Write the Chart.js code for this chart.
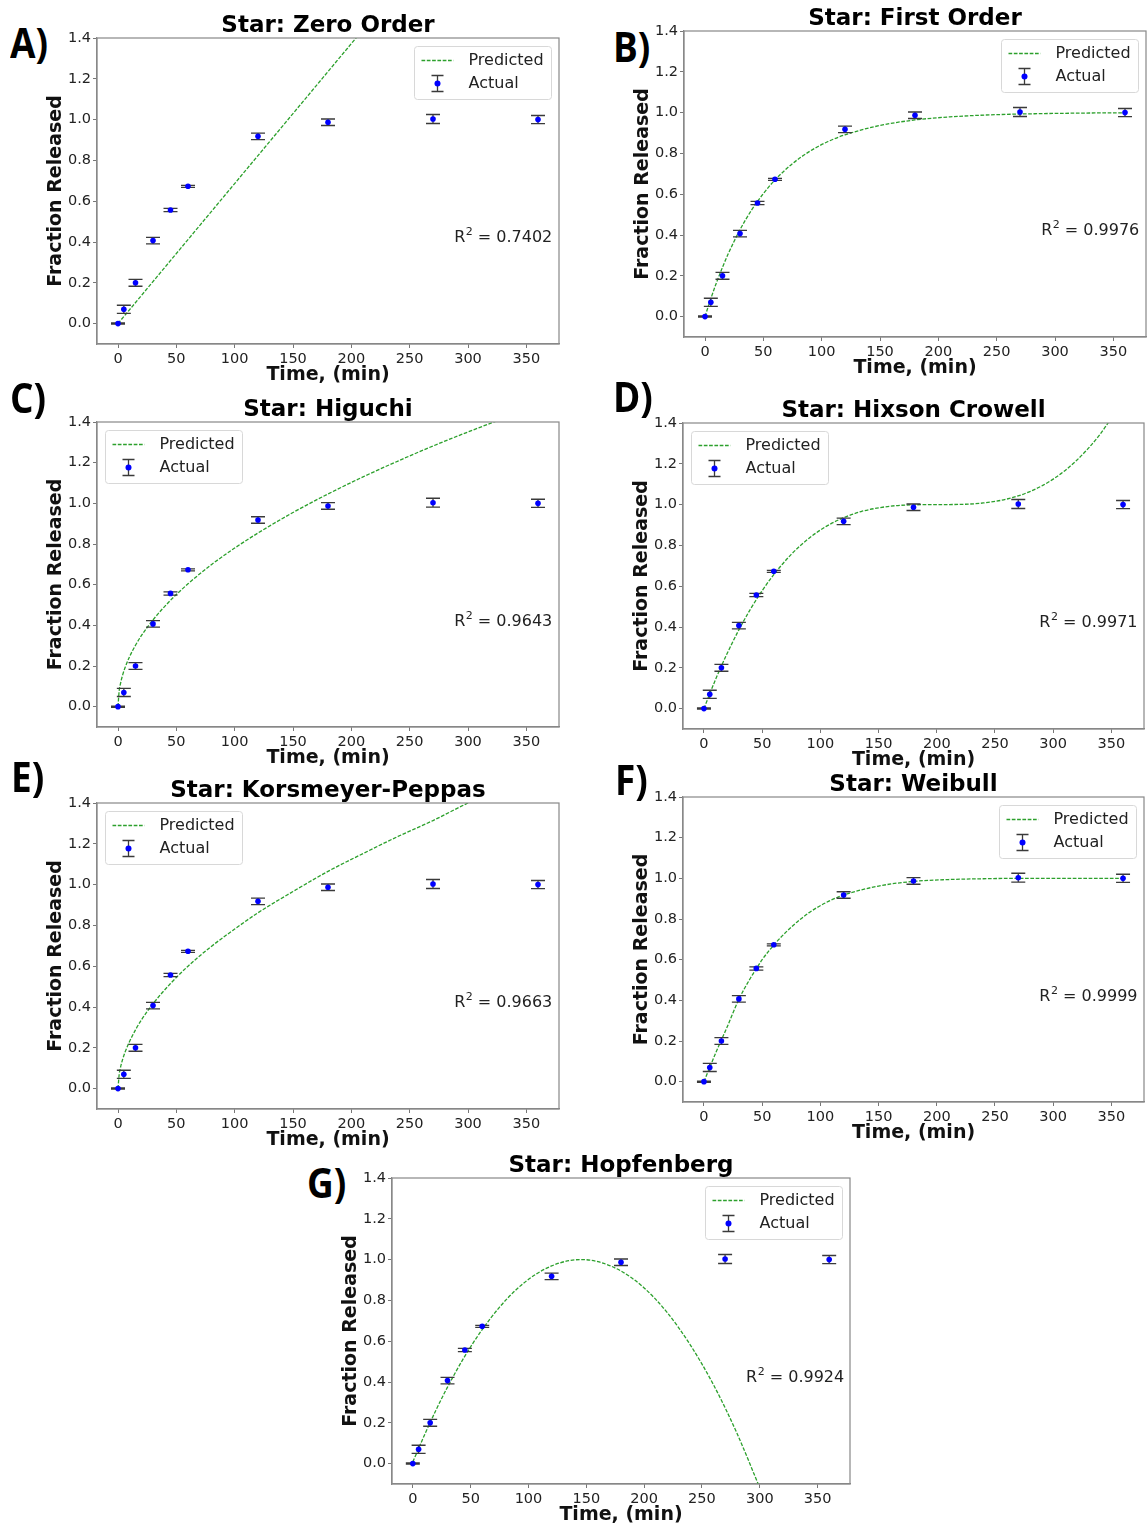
<!DOCTYPE html>
<html lang="en">
<head>
<meta charset="UTF-8">
<title>Star release kinetics - model fits</title>
<script src="https://cdn.jsdelivr.net/npm/chart.js@4.4.1/dist/chart.umd.min.js"></script>
<style>
  body { margin: 0; background: #fff; }
  #page { position: relative; width: 1147px; height: 1526px; overflow: hidden; }
  #page canvas { position: absolute; }
  .tag { position: absolute; font-family: "Open Sans", sans-serif; font-weight: 700; font-size: 42px; line-height: 1; color: #000;
         transform: scaleX(0.88); transform-origin: left top; }
</style>
</head>
<body>
<div id="page"></div>
<script>
// measured release (mean +- error)
const timeMin = [0, 5, 15, 30, 45, 60, 120, 180, 270, 360];
const fractionMean = [0, 0.07, 0.2, 0.407, 0.557, 0.673, 0.918, 0.987, 1.003, 1.0];
const fractionErr = [0.003, 0.02, 0.017, 0.016, 0.008, 0.005, 0.016, 0.016, 0.022, 0.02];

const xTicks = [0, 50, 100, 150, 200, 250, 300, 350];
const yTicks = [0, 0.2, 0.4, 0.6, 0.8, 1.0, 1.2, 1.4];

// predicted curves
const zeroOrderT = [0, 60, 204, 360];
const zeroOrderY = [0, 0.412, 1.40, 2.47];

const firstOrderT = [0, 5, 10, 15, 20, 30, 40, 50, 60, 75, 90, 105, 120, 150, 180, 210, 240, 270, 300, 330, 360];
const firstOrderY = [0, 0.088, 0.169, 0.242, 0.309, 0.426, 0.523, 0.603, 0.67, 0.75, 0.811, 0.857, 0.891, 0.937, 0.964, 0.979, 0.988, 0.993, 0.996, 0.998, 0.999];

const higuchiT = [0, 1, 2, 4, 6, 10, 15, 20, 30, 45, 60, 80, 100, 120, 150, 180, 210, 240, 270, 300, 330];
const higuchiY = [0, 0.078, 0.11, 0.156, 0.191, 0.247, 0.302, 0.349, 0.427, 0.523, 0.604, 0.698, 0.78, 0.854, 0.955, 1.046, 1.13, 1.208, 1.282, 1.351, 1.417];

const hixsonT = [0, 5, 10, 15, 20, 30, 40, 50, 60, 75, 90, 105, 120, 135, 150, 165, 180, 200, 220, 240, 260, 280, 300, 320, 340, 360];
const hixsonY = [0, 0.073, 0.143, 0.209, 0.271, 0.386, 0.488, 0.578, 0.657, 0.756, 0.834, 0.893, 0.936, 0.966, 0.984, 0.995, 0.999, 1.0, 1.001, 1.008, 1.027, 1.064, 1.125, 1.216, 1.343, 1.512];

const peppasT = [0, 1, 2, 4, 6, 10, 15, 20, 30, 45, 60, 80, 100, 120, 150, 180, 210, 240, 270, 300, 320];
const peppasY = [0, 0.069, 0.1, 0.144, 0.178, 0.232, 0.288, 0.336, 0.416, 0.515, 0.6, 0.697, 0.782, 0.862, 0.966, 1.065, 1.152, 1.236, 1.314, 1.4, 1.45];

const weibullT = [0, 5, 10, 15, 20, 30, 40, 45, 50, 60, 75, 90, 105, 120, 150, 180, 210, 240, 270, 300, 330, 360];
const weibullY = [0, 0.07, 0.14, 0.205, 0.27, 0.405, 0.51, 0.556, 0.6, 0.672, 0.76, 0.83, 0.881, 0.918, 0.962, 0.985, 0.994, 0.998, 1.0, 1.0, 1.0, 1.0];

const hopfenbergT = [0, 10, 20, 30, 45, 60, 75, 90, 105, 120, 135, 146, 160, 180, 200, 220, 240, 260, 280, 300];
const hopfenbergY = [0.008, 0.139, 0.262, 0.375, 0.527, 0.657, 0.767, 0.856, 0.923, 0.969, 0.995, 1.0, 0.99, 0.944, 0.861, 0.74, 0.581, 0.386, 0.152, -0.119];

const FONT = 'DejaVu Sans';
const GREEN = '#2ca02c';
Chart.defaults.font.family = FONT;

const panels = [
  { tag: 'A)', title: 'Star: Zero Order', t: zeroOrderT, y: zeroOrderY, r2: '0.7402', side: 'right',
    l: 97, top: 38, w: 462, h: 306, tagX: 10, tagY: 21 },
  { tag: 'B)', title: 'Star: First Order', t: firstOrderT, y: firstOrderY, r2: '0.9976', side: 'right',
    l: 684, top: 31, w: 462, h: 306, tagX: 613, tagY: 25 },
  { tag: 'C)', title: 'Star: Higuchi', t: higuchiT, y: higuchiY, r2: '0.9643', side: 'left',
    l: 97, top: 422, w: 462, h: 305, tagX: 10, tagY: 376 },
  { tag: 'D)', title: 'Star: Hixson Crowell', t: hixsonT, y: hixsonY, r2: '0.9971', side: 'left',
    l: 683, top: 423, w: 461, h: 306, tagX: 613, tagY: 375 },
  { tag: 'E)', title: 'Star: Korsmeyer-Peppas', t: peppasT, y: peppasY, r2: '0.9663', side: 'left',
    l: 97, top: 803, w: 462, h: 306, tagX: 11, tagY: 755 },
  { tag: 'F)', title: 'Star: Weibull', t: weibullT, y: weibullY, r2: '0.9999', side: 'right',
    l: 683, top: 797, w: 461, h: 305, tagX: 615, tagY: 758 },
  { tag: 'G)', title: 'Star: Hopfenberg', t: hopfenbergT, y: hopfenbergY, r2: '0.9924', side: 'right',
    l: 392, top: 1178, w: 458, h: 306, tagX: 307, tagY: 1161 }
];

// vertical error bars with caps, drawn just before the points
const errorBars = {
  id: 'errorBars',
  beforeDatasetDraw(chart, args) {
    const ds = chart.data.datasets[args.index];
    if (!ds.errors) return;
    const ctx = chart.ctx, ys = chart.scales.y;
    ctx.save();
    ctx.strokeStyle = '#3a3a3a';
    ctx.lineWidth = 1.3;
    args.meta.data.forEach((pt, i) => {
      const v = ds.data[i].y, e = ds.errors[i];
      const yt = ys.getPixelForValue(v + e), yb = ys.getPixelForValue(v - e);
      ctx.beginPath();
      ctx.moveTo(pt.x, yt); ctx.lineTo(pt.x, yb);
      ctx.moveTo(pt.x - 7, yt); ctx.lineTo(pt.x + 7, yt);
      ctx.moveTo(pt.x - 7, yb); ctx.lineTo(pt.x + 7, yb);
      ctx.stroke();
    });
    ctx.restore();
  }
};

// matplotlib-like legend box inside the axes
const legendBox = {
  id: 'legendBox',
  afterDraw(chart, args, opts) {
    const ctx = chart.ctx, a = chart.chartArea;
    const w = 137, h = 53, inset = 8;
    const x0 = Math.round(opts.side === 'left' ? a.left + inset : a.right - inset - w) + 0.5;
    const y0 = Math.round(a.top + inset) + 0.5;
    const pred = chart.data.datasets[1], act = chart.data.datasets[0];
    ctx.save();
    ctx.fillStyle = 'rgba(255,255,255,0.85)';
    ctx.strokeStyle = '#d8d8d8';
    ctx.lineWidth = 1;
    ctx.beginPath();
    ctx.roundRect(x0, y0, w, h, 3);
    ctx.fill();
    ctx.stroke();

    // Predicted
    ctx.strokeStyle = pred.borderColor;
    ctx.lineWidth = pred.borderWidth;
    ctx.setLineDash(pred.borderDash);
    ctx.beginPath();
    ctx.moveTo(x0 + 7, y0 + 14); ctx.lineTo(x0 + 39, y0 + 14);
    ctx.stroke();
    ctx.setLineDash([]);

    // Actual
    const cx = x0 + 23, cy = y0 + 37;
    ctx.strokeStyle = '#3a3a3a';
    ctx.lineWidth = 1.3;
    ctx.beginPath();
    ctx.moveTo(cx, cy - 8); ctx.lineTo(cx, cy + 8);
    ctx.moveTo(cx - 6, cy - 8); ctx.lineTo(cx + 6, cy - 8);
    ctx.moveTo(cx - 6, cy + 8); ctx.lineTo(cx + 6, cy + 8);
    ctx.stroke();
    ctx.fillStyle = act.backgroundColor;
    ctx.beginPath(); ctx.arc(cx, cy, 3, 0, Math.PI * 2); ctx.fill();

    ctx.fillStyle = '#222';
    ctx.font = '16px "' + FONT + '"';
    ctx.textBaseline = 'middle';
    ctx.fillText(pred.label, x0 + 54, y0 + 14);
    ctx.fillText(act.label, x0 + 54, y0 + 37);
    ctx.restore();
  }
};

// axes frame and the R^2 note
const frameNote = {
  id: 'frameNote',
  afterDraw(chart, args, opts) {
    const ctx = chart.ctx, a = chart.chartArea;
    ctx.save();
    ctx.strokeStyle = '#888';
    ctx.lineWidth = 1.2;
    ctx.strokeRect(a.left, a.top, a.right - a.left, a.bottom - a.top);

    let x = a.left + 0.773 * (a.right - a.left);
    const base = a.bottom - 0.332 * (a.bottom - a.top);
    ctx.fillStyle = '#222';
    ctx.textBaseline = 'alphabetic';
    ctx.font = '16px "' + FONT + '"';
    ctx.fillText('R', x, base);
    x += ctx.measureText('R').width;
    ctx.font = '11px "' + FONT + '"';
    ctx.fillText('2', x + 0.5, base - 7);
    x += ctx.measureText('2').width + 0.5;
    ctx.font = '16px "' + FONT + '"';
    ctx.fillText(' = ' + opts.r2, x, base);
    ctx.restore();
  }
};

const page = document.getElementById('page');

function makePanel(p) {
  const tag = document.createElement('div');
  tag.className = 'tag';
  tag.textContent = p.tag;
  tag.style.left = p.tagX + 'px';
  tag.style.top = p.tagY + 'px';
  page.appendChild(tag);

  const yAxisW = 60, titleH = 28, xAxisH = 41, padR = 3;
  const c = document.createElement('canvas');
  c.width = yAxisW + p.w + padR;
  c.height = titleH + p.h + xAxisH;
  c.style.left = (p.l - yAxisW) + 'px';
  c.style.top = (p.top - titleH) + 'px';
  page.appendChild(c);

  const tickFont = { family: FONT, size: 14.5 };
  const labelFont = { family: FONT, size: 19, weight: 'bold', lineHeight: 1 };

  return new Chart(c, {
    type: 'scatter',
    data: {
      datasets: [
        {
          label: 'Actual',
          data: timeMin.map((t, i) => ({ x: t, y: fractionMean[i] })),
          errors: fractionErr,
          backgroundColor: '#0000ff',
          borderColor: '#0000ff',
          borderWidth: 0,
          pointRadius: 2.8,
          pointHoverRadius: 2.8
        },
        {
          type: 'line',
          label: 'Predicted',
          data: p.t.map((t, i) => ({ x: t, y: p.y[i] })),
          borderColor: GREEN,
          borderWidth: 1.3,
          borderDash: [3.7, 1.6],
          pointRadius: 0,
          fill: false,
          cubicInterpolationMode: 'monotone'
        }
      ]
    },
    options: {
      responsive: false,
      animation: false,
      devicePixelRatio: 1,
      layout: { padding: { right: padR } },
      plugins: {
        legend: { display: false },
        tooltip: { enabled: false },
        title: {
          display: true,
          text: p.title,
          fullSize: false,
          color: '#000',
          font: { family: FONT, size: 23, weight: 'bold', lineHeight: 1 },
          padding: { top: 5, bottom: 0 }
        },
        legendBox: { side: p.side },
        frameNote: { r2: p.r2 }
      },
      scales: {
        x: {
          type: 'linear',
          min: -18,
          max: 378,
          afterBuildTicks: s => { s.ticks = xTicks.map(v => ({ value: v })); },
          afterFit: s => { s.height = xAxisH; },
          ticks: { font: tickFont, color: '#222', padding: 3, autoSkip: false, maxRotation: 0,
                   callback: v => String(v) },
          grid: { drawOnChartArea: false, drawTicks: true, tickLength: 4, color: '#777' },
          border: { display: true, color: '#888', width: 1.2 },
          title: { display: true, text: 'Time, (min)', color: '#111', font: labelFont,
                   padding: { top: 0, bottom: 0 } }
        },
        y: {
          min: -0.1,
          max: 1.4,
          afterBuildTicks: s => { s.ticks = yTicks.map(v => ({ value: v })); },
          afterFit: s => { s.width = yAxisW; },
          ticks: { font: tickFont, color: '#222', padding: 2, autoSkip: false,
                   callback: v => v.toFixed(1) },
          grid: { drawOnChartArea: false, drawTicks: true, tickLength: 4, color: '#777' },
          border: { display: true, color: '#888', width: 1.2 },
          title: { display: true, text: 'Fraction Released', color: '#111', font: labelFont,
                   padding: { top: 9.5, bottom: 0 } }
        }
      }
    },
    plugins: [errorBars, legendBox, frameNote]
  });
}

panels.forEach(makePanel);
</script>
</body>
</html>
